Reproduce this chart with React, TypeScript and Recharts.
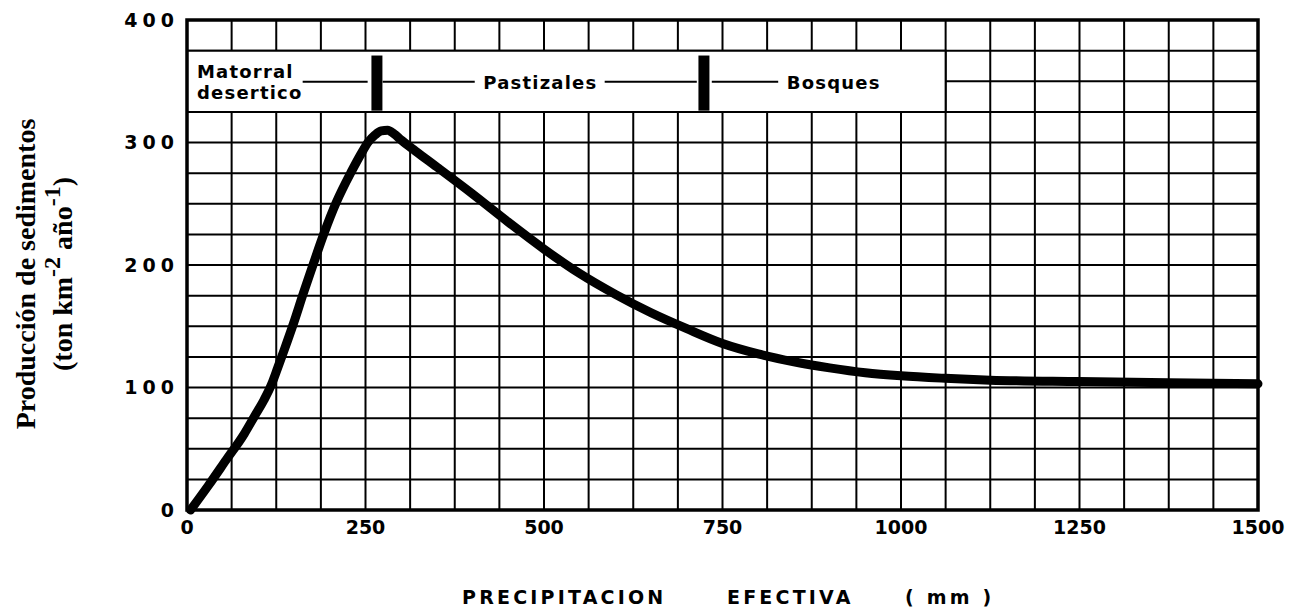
import { CartesianGrid, Line, LineChart, ReferenceArea, ReferenceDot, ReferenceLine, XAxis, YAxis } from 'recharts';

// curve: effective precipitation (mm) -> sediment yield
const precipitation = [5, 30, 55, 80, 95, 108, 118, 127, 137, 149, 163, 177, 192, 209, 230, 246, 254, 263, 272, 281, 290, 300, 320, 350, 400, 450, 500, 550, 600, 650, 700, 750, 800, 850, 900, 950, 1000, 1062, 1125, 1250, 1375, 1500];
const sediment = [0, 20, 41, 62, 77, 90, 102, 116, 132, 152, 177, 201, 226, 251, 276, 293, 300.5, 306, 309.5, 310, 307, 302, 293, 280, 258, 235, 213, 193, 176, 161, 148, 136, 127.5, 121, 116, 112, 109.5, 107.5, 106, 104.8, 103.8, 103];

const xTicks = [0, 250, 500, 750, 1000, 1250, 1500];
const yTicks = [0, 100, 200, 300, 400];

// graph paper: 24 columns x 16 rows
const gridX = Array.from({ length: 25 }, (_, i) => i * 62.5);
const gridY = Array.from({ length: 17 }, (_, i) => i * 25);

// vegetation zones along the precipitation axis
const zoneBounds = [266, 724];
const zoneNames = ['Matorral', 'desertico', 'Pastizales', 'Bosques'];

const data = precipitation.map((p, i) => ({ p, s: sediment[i] }));

const tickFont = "'DejaVu Sans', Verdana, sans-serif";
const serif = "'Liberation Serif', 'Times New Roman', serif";

const boxText = { fill: '#000', fontSize: 18, fontWeight: 700, fontFamily: tickFont, letterSpacing: 1.2 };

// label anchors inside the top box (data units)
const nameAnchors = [
  { x: 14, y: 358 },
  { x: 14, y: 341 },
  { x: 415, y: 349 },
  { x: 840, y: 349 },
];
const leaderSegments = [
  [162, 253],
  [274, 403],
  [585, 714],
  [735, 828],
];

function YTitle({ viewBox }: any) {
  const vb = viewBox || { x: 119, y: 12, width: 60, height: 490 };
  const cy = vb.y + vb.height / 2 + 9;
  const x1 = vb.x - 102;
  const x2 = vb.x - 65;
  return (
    <g fontFamily={serif} fontWeight={700} fill="#000">
      <text x={x1} y={cy} transform={`rotate(-90 ${x1} ${cy})`} textAnchor="middle" dominantBaseline="central" fontSize={28}>
        Producción de sedimentos
      </text>
      <text x={x2} y={cy} transform={`rotate(-90 ${x2} ${cy})`} textAnchor="middle" dominantBaseline="central" fontSize={28}>
        (ton km
        <tspan dy={-10} fontSize={24}>-2</tspan>
        <tspan dy={10}> año</tspan>
        <tspan dy={-10} fontSize={24}>-1</tspan>
        <tspan dy={10}>)</tspan>
      </text>
    </g>
  );
}

function XTitle({ viewBox }: any) {
  const vb = viewBox || { x: 179, y: 502, width: 1071, height: 40 };
  const y = vb.y + 87;
  const style = { whiteSpace: 'pre' as const };
  return (
    <g fontFamily={tickFont} fontWeight={700} fontSize={19} fill="#000" letterSpacing={3.2}>
      <text x={vb.x + 275} y={y} dominantBaseline="central" style={style}>PRECIPITACION</text>
      <text x={vb.x + 540} y={y} dominantBaseline="central" style={style}>EFECTIVA</text>
      <text x={vb.x + 718} y={y} dominantBaseline="central" style={style}>( mm )</text>
    </g>
  );
}

export default function App() {
  return (
    <div style={{ width: 1290, height: 600, background: '#fff' }}>
      <LineChart width={1290} height={600} data={data} margin={{ top: 12, right: 40, left: 119, bottom: 58 }}>
        <CartesianGrid stroke="#000" strokeWidth={2} verticalValues={gridX} horizontalValues={gridY} />
        <XAxis
          dataKey="p"
          type="number"
          domain={[0, 1500]}
          ticks={xTicks}
          height={40}
          axisLine={false}
          tickLine={false}
          tickMargin={5}
          tick={{ fill: '#000', fontSize: 19, fontWeight: 700, fontFamily: tickFont }}
          label={{ content: XTitle }}
        />
        <YAxis
          type="number"
          domain={[0, 400]}
          ticks={yTicks}
          width={60}
          axisLine={false}
          tickLine={false}
          tickMargin={2}
          tick={{ fill: '#000', fontSize: 19, fontWeight: 700, fontFamily: tickFont, letterSpacing: 5 }}
          label={{ content: YTitle }}
        />
        <ReferenceArea x1={0} x2={1062.5} y1={325} y2={375} fill="#fff" fillOpacity={1} stroke="#000" strokeWidth={2} />
        <ReferenceArea x1={0} x2={1500} y1={0} y2={400} fill="none" stroke="#000" strokeWidth={3.5} />
        {leaderSegments.map(([a, b]) => (
          <ReferenceLine key={a} segment={[{ x: a, y: 349.5 }, { x: b, y: 349.5 }]} stroke="#000" strokeWidth={2} />
        ))}
        {zoneBounds.map((z) => (
          <ReferenceLine key={z} segment={[{ x: z, y: 326 }, { x: z, y: 371 }]} stroke="#000" strokeWidth={11} />
        ))}
        {zoneNames.map((name, i) => (
          <ReferenceDot
            key={name}
            x={nameAnchors[i].x}
            y={nameAnchors[i].y}
            r={0}
            fill="none"
            stroke="none"
            label={{ value: name, position: 'right', offset: 0, ...boxText }}
          />
        ))}
        <Line
          type="monotone"
          dataKey="s"
          stroke="#000"
          strokeWidth={9}
          strokeLinecap="round"
          strokeLinejoin="round"
          dot={false}
          activeDot={false}
          isAnimationActive={false}
        />
      </LineChart>
    </div>
  );
}
